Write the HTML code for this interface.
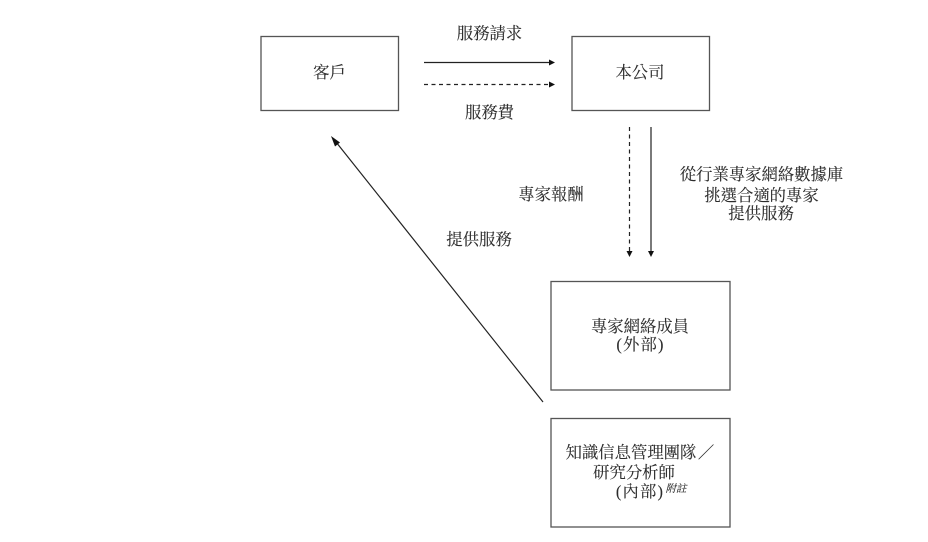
<!DOCTYPE html>
<html lang="zh-Hant">
<head>
<meta charset="utf-8">
<style>
html,body{margin:0;padding:0;background:#fff;}
svg{display:block;}
text{font-family:"Liberation Serif","Noto Serif CJK SC","Noto Sans CJK TC",serif;font-size:16.35px;fill:#2c2c2c;text-anchor:middle;stroke:#2c2c2c;stroke-width:0.12px;}
.blur{filter:blur(0.3px);}
</style>
</head>
<body>
<svg width="928" height="542" viewBox="0 0 928 542" xmlns="http://www.w3.org/2000/svg">
<rect width="928" height="542" fill="#fff"/>
<g fill="none" stroke="#555" stroke-width="1.3">
<rect x="261" y="36.5" width="137.5" height="74"/>
<rect x="572" y="36.5" width="137.5" height="74"/>
<rect x="551" y="281.5" width="179" height="108.5"/>
<rect x="551" y="418.5" width="179" height="108.5"/>
</g>
<g stroke="#222" stroke-width="1.2" fill="none">
<line x1="424" y1="62.5" x2="550" y2="62.5"/>
<line x1="424" y1="84.5" x2="550" y2="84.5" stroke-dasharray="4 3.5"/>
<line x1="629.5" y1="127" x2="629.5" y2="251" stroke-dasharray="4 3.5"/>
<line x1="651" y1="127" x2="651" y2="251"/>
<line x1="543" y1="402" x2="336" y2="142"/>
</g>
<g fill="#111">
<polygon points="555,62.5 549,59.5 549,65.5"/>
<polygon points="555,84.5 549,81.5 549,87.5"/>
<polygon points="629.5,257 626.5,251 632.5,251"/>
<polygon points="651,257 648,251 654,251"/>
<polygon points="331,136 340,142.5 335,146.5"/>
</g>
<g class="blur">
<text x="329.5" y="78">客戶</text>
<text x="640" y="78">本公司</text>
<text x="489.5" y="39">服務請求</text>
<text x="489.5" y="118">服務費</text>
<text x="551" y="200">專家報酬</text>
<text x="479" y="245">提供服務</text>
<text x="761.5" y="180">從行業專家網絡數據庫</text>
<text x="761.5" y="201">挑選合適的專家</text>
<text x="761" y="219">提供服務</text>
<text x="640" y="332">專家網絡成員</text>
<text x="640.5" y="350" letter-spacing="1.2">(外部)</text>
<text x="631" y="458">知識信息管理團隊</text>
<text x="706" y="458">／</text>
<text x="634" y="478">研究分析師</text>
<text x="640" y="497" letter-spacing="1.2">(內部)</text>
<text x="676" y="492" style="font-size:10.5px;font-style:italic">附註</text>
</g>
</svg>
</body>
</html>
